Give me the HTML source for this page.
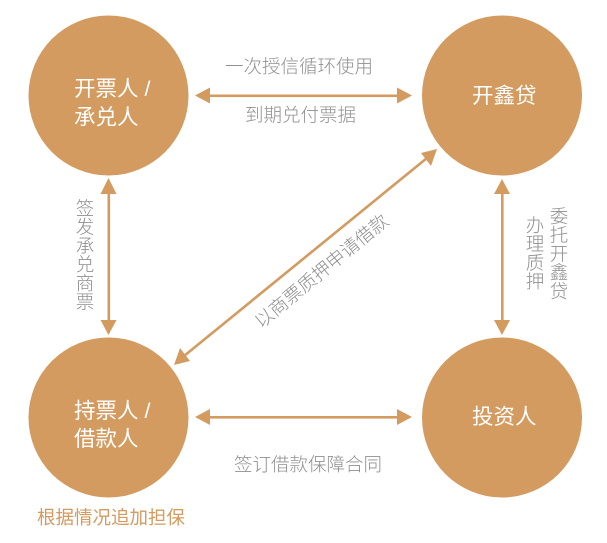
<!DOCTYPE html>
<html><head><meta charset="utf-8"><style>
html,body{margin:0;padding:0;background:#fff}
svg{display:block}
text{font-family:"Liberation Sans","Noto Sans CJK SC",sans-serif}
.g{fill:#8f8f8f;font-size:18.5px;font-weight:300}
.w{fill:#fff;font-size:21.5px}
</style></head><body>
<svg width="607" height="543" viewBox="0 0 607 543" xmlns="http://www.w3.org/2000/svg">
<g fill="#d39b5f">
<circle cx="108.5" cy="95.5" r="80"/><circle cx="502" cy="95.5" r="80"/>
<circle cx="108.5" cy="417.5" r="80"/><circle cx="502" cy="417.5" r="80"/>
<rect x="205" y="94.5" width="198" height="2.6"/>
<polygon points="195,95.5 210,87.5 210,103.5"/><polygon points="412,95.5 397,87.5 397,103.5"/>
<rect x="205" y="416" width="198" height="2.6"/>
<polygon points="195,417 210,409 210,425"/><polygon points="412,417 397,409 397,425"/>
<rect x="107.5" y="190" width="2.6" height="134"/>
<polygon points="108.5,178 100.5,194 116.5,194"/><polygon points="108.5,335 100.5,320 116.5,320"/>
<rect x="501" y="190" width="2.6" height="134"/>
<polygon points="502,179 494,194 510,194"/><polygon points="502,335 494,320 510,320"/>
<polygon points="437,149 421,153 431,166"/><polygon points="174,365 190,361 180,348"/>
</g>
<line x1="427" y1="158" x2="184" y2="356" stroke="#d39b5f" stroke-width="2.6"/>
<text class="w" x="74" y="96">开票人 /</text><text class="w" x="74" y="124.5">承兑人</text>
<text class="w" x="472" y="103">开鑫贷</text>
<text class="w" x="74" y="418">持票人 /</text><text class="w" x="74" y="446">借款人</text>
<text class="w" x="472" y="424">投资人</text>
<text class="g" x="225" y="73">一次授信循环使用</text>
<text class="g" x="245" y="121.5">到期兑付票据</text>
<text class="g" x="234" y="471">签订借款保障合同</text>
<text class="g" x="85" y="215" text-anchor="middle"><tspan x="85">签</tspan><tspan x="85" dy="18.7">发</tspan><tspan x="85" dy="18.7">承</tspan><tspan x="85" dy="18.7">兑</tspan><tspan x="85" dy="18.7">商</tspan><tspan x="85" dy="18.7">票</tspan></text>
<text class="g" x="559" y="223" text-anchor="middle"><tspan x="559">委</tspan><tspan x="559" dy="18.7">托</tspan><tspan x="559" dy="18.7">开</tspan><tspan x="559" dy="18.7">鑫</tspan><tspan x="559" dy="18.7">贷</tspan></text>
<text class="g" x="535" y="232" text-anchor="middle"><tspan x="535">办</tspan><tspan x="535" dy="18.7">理</tspan><tspan x="535" dy="18.7">质</tspan><tspan x="535" dy="18.7">押</tspan></text>
<text class="g" text-anchor="middle" transform="translate(321.5,271) rotate(-39.5) translate(0,6.5)">以商票质押申请借款</text>
<text x="37" y="524" fill="#d39b5f" font-size="18.5">根据情况追加担保</text>
</svg>
</body></html>
